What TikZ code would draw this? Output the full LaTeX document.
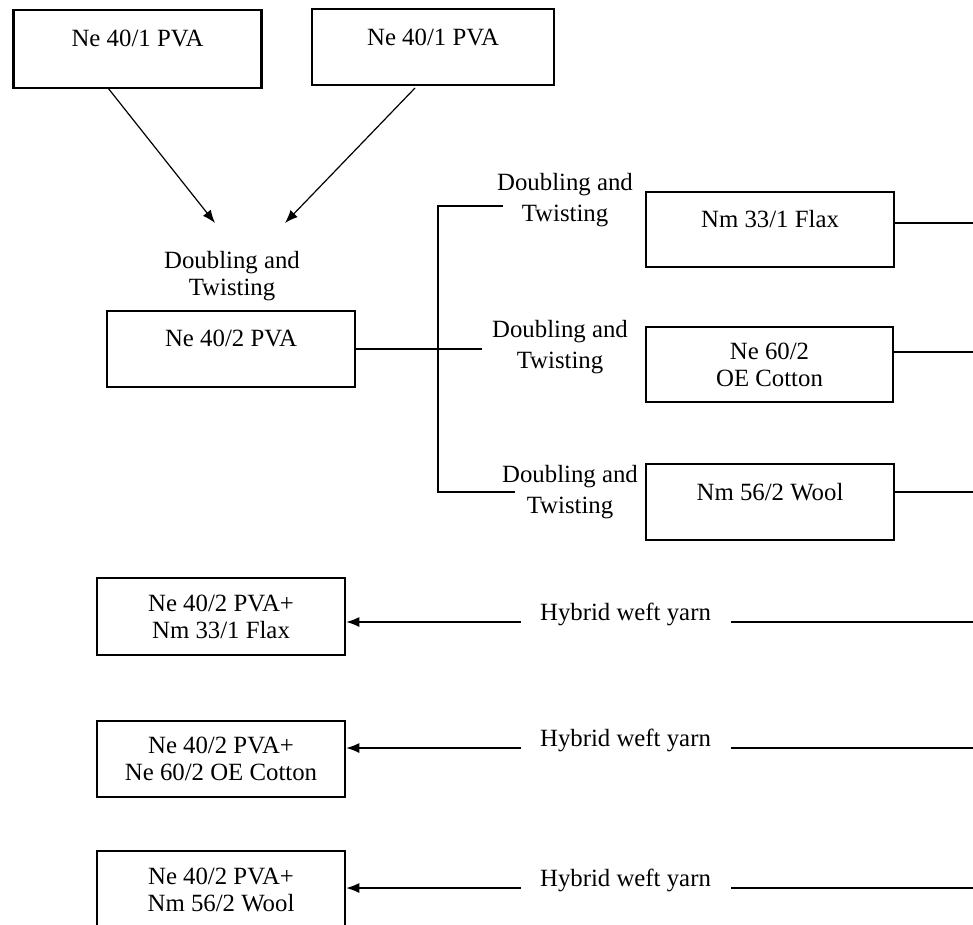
\documentclass[tikz,border=0pt]{standalone}
\usepackage{fontspec}
\setmainfont{Liberation Serif}
\usetikzlibrary{arrows.meta}
\begin{document}
\begin{tikzpicture}[x=1pt,y=-1pt,
  every node/.style={font=\fontsize{24.8}{27}\selectfont, inner sep=0pt},
  box/.style={draw, line width=2.6pt, minimum width=248pt, align=center},
  lab/.style={align=center},
  rlab/.style={align=center, font=\fontsize{24.8}{31}\selectfont},
  conn/.style={line width=1.2pt},
  arr/.style={conn, -{Latex[length=13pt,width=10pt]}}]
\useasboundingbox (0,0) rectangle (973,924);
% top boxes
\node[box, minimum height=78pt] (a1) at (137.5,49) {Ne 40/1 PVA\\[-14pt]\strut};
\node[box, minimum width=242pt, minimum height=76pt] (a2) at (433,47) {Ne 40/1 PVA\\[-16pt]\strut};
\coordinate (e1) at (215,223);
\coordinate (e2) at (285,223);
\draw[arr] (108,88) -- (e1);
\draw[arr] (415,88) -- (e2);
\node[lab] (l0) at (232,276) {Doubling and\\Twisting};
% PVA box
\node[box, minimum height=76pt] (b) at (231,349) {Ne 40/2 PVA\\[-14pt]\strut};
\coordinate (jt) at (438,206);
\coordinate (jb) at (438,492);
\coordinate (tt) at (503,206);
\coordinate (tm) at (482,349);
\coordinate (tb) at (515,492);
\draw[conn] (b.east) -- (tm);
\draw[conn] (tt) -- (jt) -- (jb) -- (tb);
% right labels
\node[rlab] (l1) at (565,200) {Doubling and\\Twisting};
\node[rlab] (l2) at (560,347) {Doubling and\\Twisting};
\node[rlab] (l3) at (570,492) {Doubling and\\Twisting};
% right boxes
\node[box, minimum height=75pt] (c1) at (770,229.5) {Nm 33/1 Flax\\[-14pt]\strut};
\node[box, minimum width=247pt, minimum height=75pt] (c2) at (769.5,364.5) {Ne 60/2\\OE Cotton};
\node[box, minimum height=76pt] (c3) at (770,502) {Nm 56/2 Wool\\[-14pt]\strut};
\coordinate (r1) at (975,223);
\coordinate (r2) at (975,352);
\coordinate (r3) at (975,492);
\draw[conn] (c1.east |- r1) -- (r1);
\draw[conn] (c2.east |- r2) -- (r2);
\draw[conn] (c3.east |- r3) -- (r3);
% bottom boxes
\node[box, minimum height=77pt] (d1) at (221,616.5) {Ne 40/2 PVA+\\Nm 33/1 Flax};
\node[box, minimum height=76pt] (d2) at (221,759) {Ne 40/2 PVA+\\Ne 60/2 OE Cotton};
\node[box, minimum height=77pt] (d3) at (221,889.5) {Ne 40/2 PVA+\\Nm 56/2 Wool};
% hybrid weft yarn
\node (h1) at (625.5,614) {Hybrid weft yarn};
\node (h2) at (625.5,740) {Hybrid weft yarn};
\node (h3) at (625.5,880) {Hybrid weft yarn};
\coordinate (p1l) at (521,622);
\coordinate (p1r) at (731,622);
\coordinate (q1) at (975,622);
\coordinate (p2l) at (521,748);
\coordinate (p2r) at (731,748);
\coordinate (q2) at (975,748);
\coordinate (p3l) at (521,888);
\coordinate (p3r) at (731,888);
\coordinate (q3) at (975,888);
\draw[arr] (p1l) -- (d1.east |- p1l);
\draw[conn] (p1r) -- (q1);
\draw[arr] (p2l) -- (d2.east |- p2l);
\draw[conn] (p2r) -- (q2);
\draw[arr] (p3l) -- (d3.east |- p3l);
\draw[conn] (p3r) -- (q3);
\end{tikzpicture}
\end{document}
